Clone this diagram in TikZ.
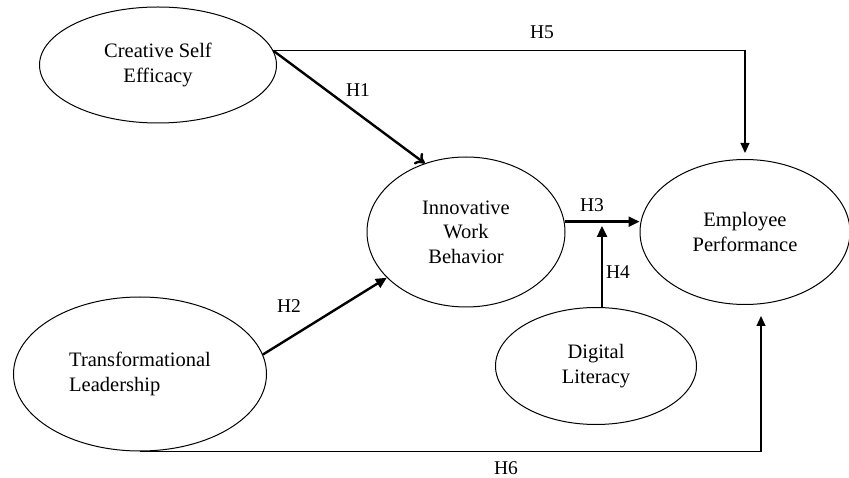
\documentclass[tikz,border=0pt]{standalone}
\usepackage{fontspec}
\setmainfont{Liberation Serif}
\usetikzlibrary{arrows.meta, shapes.geometric}

\begin{document}
\begin{tikzpicture}[x=1pt, y=-1pt,
        main/.style = {draw, ellipse, line width=1pt, inner sep=0pt, align=center,
                       font=\fontsize{20.5}{24.5}\selectfont},
        hyp/.style = {font=\fontsize{19.5}{22}\selectfont},
        bold/.style = {line width=2.4pt, -{Triangle[length=11pt,width=10pt]}},
        thin/.style = {line width=1.2pt, -{Triangle[length=10pt,width=9pt]}}]
        \useasboundingbox (0,0) rectangle (849,478);
        \node[main, minimum width=237pt, minimum height=116pt] (cse) at (158,65) {Creative Self\\Efficacy};
        \node[main, minimum width=198pt, minimum height=150pt] (iwb) at (466,232) {Innovative\\Work\\Behavior};
        \node[main, minimum width=210pt, minimum height=145pt] (ep) at (745,232) {Employee\\Performance};
        \node[main, minimum width=253pt, minimum height=154pt, align=left] (tl) at (140,374) {Transformational\\Leadership};
        \node[main, minimum width=201pt, minimum height=117pt] (dl) at (596,366) {Digital\\Literacy};
        \coordinate (h4top) at (602,226);
        \coordinate (h6end) at (761,316);
        \draw[line width=2.4pt, -{To[length=9pt,width=14pt,line width=2.4pt]}] (cse.7) -- (iwb.121);
        \draw[bold] (tl.9) -- (iwb.210);
        \draw[bold] (iwb.6) -- (iwb.6 -| ep.west);
        \draw[bold] (h4top |- dl.north) -- (h4top);
        \draw[thin, shorten >=6pt] (cse.7) -| (ep.north);
        \draw[thin] (tl.south) -| (h6end);
        \node[hyp] (h1) at (358,90) {H1};
        \node[hyp] (h2) at (289,306) {H2};
        \node[hyp] (h3) at (592,205) {H3};
        \node[hyp] (h4) at (618,272) {H4};
        \node[hyp] (h5) at (542,32) {H5};
        \node[hyp] (h6) at (506,468) {H6};
\end{tikzpicture}
\end{document}
